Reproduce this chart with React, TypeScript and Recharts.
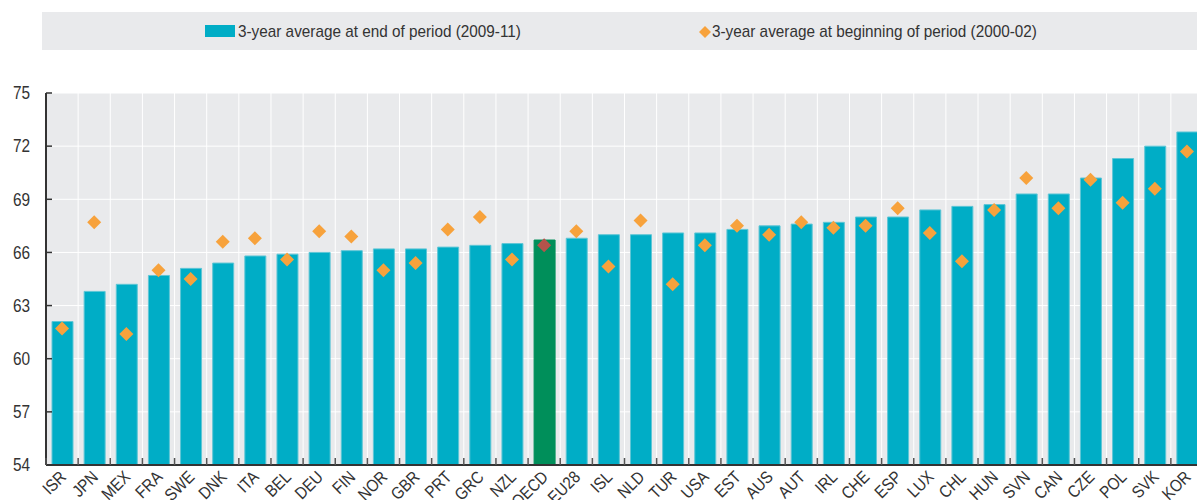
import React from "react";
import {
  ComposedChart,
  Bar,
  Scatter,
  Cell,
  XAxis,
  YAxis,
  CartesianGrid,
} from "recharts";

// countries, sorted by the end-of-period value
const countries = [
  "ISR", "JPN", "MEX", "FRA", "SWE", "DNK", "ITA", "BEL", "DEU", "FIN",
  "NOR", "GBR", "PRT", "GRC", "NZL", "OECD", "EU28", "ISL", "NLD", "TUR",
  "USA", "EST", "AUS", "AUT", "IRL", "CHE", "ESP", "LUX", "CHL", "HUN",
  "SVN", "CAN", "CZE", "POL", "SVK", "KOR",
];

// 3-year average at end of period (2009-11)
const endPeriod = [
  62.1, 63.8, 64.2, 64.7, 65.1, 65.4, 65.8, 65.9, 66.0, 66.1,
  66.2, 66.2, 66.3, 66.4, 66.5, 66.7, 66.8, 67.0, 67.0, 67.1,
  67.1, 67.3, 67.5, 67.6, 67.7, 68.0, 68.0, 68.4, 68.6, 68.7,
  69.3, 69.3, 70.2, 71.3, 72.0, 72.8,
];

// 3-year average at beginning of period (2000-02)
const beginPeriod = [
  61.7, 67.7, 61.4, 65.0, 64.5, 66.6, 66.8, 65.6, 67.2, 66.9,
  65.0, 65.4, 67.3, 68.0, 65.6, 66.4, 67.2, 65.2, 67.8, 64.2,
  66.4, 67.5, 67.0, 67.7, 67.4, 67.5, 68.5, 67.1, 65.5, 68.4,
  70.2, 68.5, 70.1, 68.8, 69.6, 71.7,
];

const yTicks = [54, 57, 60, 63, 66, 69, 72, 75];

const data = countries.map((name, i) => ({
  name,
  end: endPeriod[i],
  begin: beginPeriod[i],
}));

const CYAN = "#00adc6";
const GREEN = "#008f5a";
const ORANGE = "#f7a23c";
const DARK_RED = "#b5534b";
const BG = "#e9eaec";
const TEXT = "#333333";
const FONT = "'Liberation Sans', Arial, sans-serif";
const SQUEEZE = 0.88; // the original font is a bit condensed

const CHART_W = 1210;
const CHART_H = 500;
const MARGIN = { top: 93, right: 7, bottom: 0, left: 0 };
const Y_AXIS_W = 46;
const PLOT_W = CHART_W - MARGIN.left - MARGIN.right - Y_AXIS_W;
const BAND = PLOT_W / countries.length;

const XTick = (props: any) => {
  const { x, y, payload } = props;
  const left = x - BAND / 2;
  return (
    <g>
      <line x1={left} y1={y - 7} x2={left} y2={y} stroke="#555" strokeWidth={1.5} />
      <text
        transform={`translate(${x + 5}, ${y + 13}) rotate(-45) scale(${SQUEEZE}, 1)`}
        textAnchor="end"
        fontSize={17}
        fontFamily={FONT}
        fill={TEXT}
      >
        {payload.value}
      </text>
    </g>
  );
};

const YTick = (props: any) => {
  const { x, y, payload } = props;
  return (
    <text
      transform={`translate(${x}, ${y}) scale(${SQUEEZE}, 1)`}
      textAnchor="end"
      dy="0.36em"
      fontSize={17.5}
      fontFamily={FONT}
      fill={TEXT}
    >
      {payload.value}
    </text>
  );
};

const Diamond = (props: any) => {
  const { cx, cy, payload } = props;
  if (cx == null || cy == null) return null;
  const r = 7;
  const fill = payload && payload.name === "OECD" ? DARK_RED : ORANGE;
  return (
    <polygon
      points={`${cx},${cy - r} ${cx + r},${cy} ${cx},${cy + r} ${cx - r},${cy}`}
      fill={fill}
    />
  );
};

const legendText: React.CSSProperties = {
  position: "absolute",
  top: 10,
  whiteSpace: "nowrap",
  fontSize: 17,
  transform: `scaleX(${SQUEEZE + 0.02})`,
  transformOrigin: "left center",
};

export default function App() {
  return (
    <div
      style={{
        position: "absolute",
        left: 0,
        top: 0,
        width: 1197,
        height: 500,
        overflow: "hidden",
        background: "#fff",
        fontFamily: FONT,
      }}
    >
      {/* legend strip */}
      <div
        style={{
          position: "absolute",
          left: 42,
          top: 12,
          width: 1160,
          height: 38,
          background: BG,
          color: TEXT,
        }}
      >
        <div
          style={{
            position: "absolute",
            left: 163,
            top: 13,
            width: 30,
            height: 12,
            background: CYAN,
          }}
        />
        <div style={{ ...legendText, left: 196 }}>
          3-year average at end of period (2009-11)
        </div>
        <svg
          style={{ position: "absolute", left: 657, top: 14 }}
          width={12}
          height={12}
        >
          <polygon points="6,0 12,6 6,12 0,6" fill={ORANGE} />
        </svg>
        <div style={{ ...legendText, left: 670 }}>
          3-year average at beginning of period (2000-02)
        </div>
      </div>

      <ComposedChart width={CHART_W} height={CHART_H} data={data} margin={MARGIN}>
        <CartesianGrid
          stroke="#ffffff"
          strokeWidth={1}
          fill={BG}
          verticalCoordinatesGenerator={({ offset }: any) =>
            countries.map((_, i) => offset.left + i * (offset.width / countries.length))
          }
        />
        <XAxis
          dataKey="name"
          type="category"
          interval={0}
          height={35}
          tickSize={0}
          tickMargin={0}
          tickLine={false}
          tick={<XTick />}
          axisLine={{ stroke: "#333", strokeWidth: 2 }}
        />
        <YAxis
          type="number"
          domain={[54, 75]}
          ticks={yTicks}
          width={Y_AXIS_W}
          tickSize={-6}
          tickMargin={22}
          tickLine={{ stroke: "#333", strokeWidth: 1.5 }}
          axisLine={{ stroke: "#333", strokeWidth: 2 }}
          tick={<YTick />}
          allowDataOverflow
        />
        <Bar
          dataKey="end"
          barSize={21}
          stroke="#5fc6d6"
          strokeWidth={1}
          isAnimationActive={false}
        >
          {data.map((d) => (
            <Cell
              key={d.name}
              fill={d.name === "OECD" ? GREEN : CYAN}
              stroke={d.name === "OECD" ? GREEN : "#5fc6d6"}
            />
          ))}
        </Bar>
        <Scatter dataKey="begin" shape={<Diamond />} isAnimationActive={false} />
      </ComposedChart>
    </div>
  );
}
